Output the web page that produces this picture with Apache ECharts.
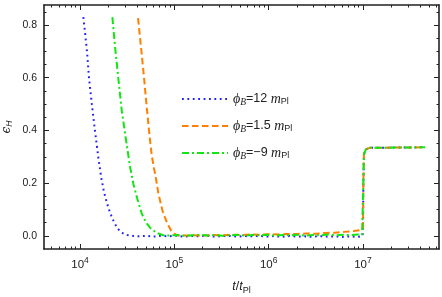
<!DOCTYPE html>
<html><head><meta charset="utf-8">
<script src="https://cdn.jsdelivr.net/npm/echarts@6/dist/echarts.min.js"></script>
<style>html,body{margin:0;padding:0;background:#fff}#c{width:442px;height:297px}</style>
</head><body><div id="c"></div>
<script>
// log10(t / t_Pl) and epsilon_H values
const blueLogT = [4.035,4.055,4.075,4.095,4.125,4.158,4.193,4.225,4.255,4.285,4.318,4.364,4.40,4.44,4.50,4.557,
  4.62,4.70,4.78,4.86,4.94,5.02,5.10,5.18,5.26,5.34,5.42,5.50,5.58,5.66,5.74,5.82,5.90,5.98,6.06,6.14,6.22,6.30,6.38,6.46,6.54,6.62,6.70,6.78,6.86,6.94,6.99,
  7.0,7.004,7.01,7.03,7.07,7.66];
const blueEps = [0.830,0.765,0.695,0.600,0.500,0.400,0.300,0.220,0.165,0.125,0.088,0.049,0.027,0.012,0.003,0.000,
  -0.002,0.000,-0.003,0.000,-0.002,0.001,-0.003,0.000,-0.002,0.001,-0.003,-0.001,0.000,-0.003,-0.001,-0.002,0.000,-0.003,-0.001,-0.004,-0.001,-0.003,-0.002,-0.004,-0.001,-0.003,-0.002,-0.004,-0.002,-0.004,-0.002,
  0.01,0.20,0.31,0.328,0.334,0.336];

const orangeLogT = [4.615,4.646,4.681,4.710,4.737,4.760,4.785,4.806,4.831,4.878,4.927,4.974,5.03,
  5.10,5.20,5.30,5.40,5.50,5.60,5.70,5.80,5.90,6.00,6.10,6.20,6.30,6.40,6.50,6.60,6.70,6.80,6.90,6.98,
  7.0,7.004,7.01,7.03,7.07,7.66];
const orangeEps = [0.826,0.718,0.591,0.477,0.380,0.306,0.255,0.215,0.160,0.090,0.046,0.014,0.002,
  0.001,0.002,0.001,0.003,0.002,0.004,0.003,0.005,0.004,0.006,0.005,0.007,0.007,0.009,0.008,0.011,0.012,0.015,0.018,0.022,
  0.03,0.20,0.31,0.328,0.334,0.336];

const greenLogT = [4.343,4.371,4.406,4.442,4.488,4.530,4.565,4.607,4.655,4.700,4.742,4.812,4.882,
  4.95,5.03,5.11,5.19,5.27,5.35,5.43,5.51,5.59,5.67,5.75,5.83,5.91,5.99,6.07,6.15,6.23,6.31,6.39,6.47,6.55,6.63,6.71,6.79,6.87,6.95,6.99,
  7.0,7.004,7.01,7.03,7.07,7.66];
const greenEps = [0.830,0.718,0.598,0.477,0.363,0.262,0.198,0.141,0.084,0.050,0.031,0.011,0.002,
  0.001,0.003,0.000,0.002,0.004,0.001,0.003,0.000,0.002,0.004,0.001,0.003,0.002,0.004,0.001,0.003,0.002,0.004,0.001,0.003,0.002,0.005,0.002,0.004,0.003,0.005,0.004,
  0.01,0.20,0.31,0.328,0.334,0.336];

const seriesNames = ['b12','b15','bm9'];
const legendTexts = {
  b12: '{i|ϕ}{s|B}{n|=12 }{i|m}{sp|Pl}',
  b15: '{i|ϕ}{s|B}{n|=1.5 }{i|m}{sp|Pl}',
  bm9: '{i|ϕ}{s|B}{n|=−9 }{i|m}{sp|Pl}'
};
const xMajor = [4,5,6,7];
const yMajor = [0,0.2,0.4,0.6,0.8];
const yMinor = [0.05,0.1,0.15,0.25,0.3,0.35,0.45,0.5,0.55,0.65,0.7,0.75,0.85];

const X_MIN = 3.618, X_MAX = 7.806, Y_MIN = -0.05, Y_MAX = 0.876;
const xMinor = [];
for (let n = 3; n <= 7; n++) for (let k = 2; k <= 9; k++) {
  const v = Math.log10(k * Math.pow(10, n));
  if (v > X_MIN && v < X_MAX) xMinor.push(v);
}

const pairs = (xs, ys) => xs.map((x, i) => [x, ys[i]]);
const lineCol = '#222';
const FONT = 'Liberation Sans';

function xAx(pos, ticks, len, labels, line) {
  return {
    type: 'value', position: pos, min: X_MIN, max: X_MAX,
    axisLine: { show: line, onZero: false, lineStyle: { color: lineCol, width: 1.6 } },
    axisTick: { show: true, inside: true, length: len, customValues: ticks, lineStyle: { color: lineCol, width: 1 } },
    axisLabel: labels ? {
      show: true, customValues: ticks, margin: 7, color: '#222', fontFamily: FONT, fontSize: 11.5,
      formatter: v => '{b|10}{p|' + Math.round(v) + '}',
      rich: { b: { fontSize: 11.5, fontFamily: FONT, color: '#222' },
              p: { fontSize: 8.5, fontFamily: FONT, color: '#222', padding: [0, 0, 9, 0] } }
    } : { show: false },
    splitLine: { show: false }, minorTick: { show: false }
  };
}
function yAx(pos, ticks, len, labels, line) {
  return {
    type: 'value', position: pos, min: Y_MIN, max: Y_MAX,
    axisLine: { show: line, onZero: false, lineStyle: { color: lineCol, width: 1.6 } },
    axisTick: { show: true, inside: true, length: len, customValues: ticks, lineStyle: { color: lineCol, width: 1 } },
    axisLabel: labels ? {
      show: true, customValues: ticks, margin: 7, color: '#222', fontFamily: FONT, fontSize: 10.5,
      formatter: v => v.toFixed(1)
    } : { show: false },
    splitLine: { show: false }
  };
}

const xAxes = [xAx('bottom', xMajor, 5, true, true), xAx('bottom', xMinor, 2.5, false, false),
  xAx('top', xMajor, 5, false, true), xAx('top', xMinor, 2.5, false, false)];
xAxes[0].name = '{i|t}{n|/}{i|t}{s|Pl}';
xAxes[0].nameLocation = 'middle';
xAxes[0].nameGap = 30;
xAxes[0].nameTextStyle = { color: '#222', fontFamily: FONT, fontSize: 12.5,
  rich: { i: { fontStyle: 'italic', fontFamily: FONT, fontSize: 12.5, color: '#222' },
          n: { fontFamily: FONT, fontSize: 12.5, color: '#222' },
          s: { fontFamily: FONT, fontSize: 9, color: '#222', padding: [7, 0, 0, 0] } } };

const yAxes = [yAx('left', yMajor, 5, true, true), yAx('left', yMinor, 2.5, false, false),
  yAx('right', yMajor, 5, false, true), yAx('right', yMinor, 2.5, false, false)];
yAxes[0].name = '{i|ϵ}{s|H}';
yAxes[0].nameLocation = 'middle';
yAxes[0].nameGap = 30;
yAxes[0].nameRotate = 90;
yAxes[0].nameMoveOverlap = false;
yAxes[0].nameTextStyle = { color: '#222', fontFamily: FONT, fontSize: 12,
  rich: { i: { fontStyle: 'italic', fontFamily: 'DejaVu Serif', fontSize: 12, color: '#222' },
          s: { fontStyle: 'italic', fontFamily: FONT, fontSize: 8.5, color: '#222', padding: [6, 0, 0, 0] } } };

const colors = ['#2020ff', '#ff8000', '#12e612'];
const dashes = [[1.8, 3.6], [6.5, 3.5], [7, 3, 2, 3]];
const data = [pairs(blueLogT, blueEps), pairs(orangeLogT, orangeEps), pairs(greenLogT, greenEps)];

const chart = echarts.init(document.getElementById('c'), null, { renderer: 'canvas' });
chart.setOption({
  animation: false,
  backgroundColor: '#fff',
  grid: { left: 44, right: 3, top: 5, bottom: 48, containLabel: false, outerBoundsMode: 'none' },
  xAxis: xAxes,
  yAxis: yAxes,
  legend: {
    orient: 'vertical', left: 176, top: 87, itemWidth: 46, itemHeight: 12, itemGap: 12,
    data: seriesNames,
    itemStyle: { opacity: 0 },
    formatter: n => legendTexts[n],
    textStyle: { color: '#222', fontFamily: FONT, fontSize: 12,
      rich: { i: { fontStyle: 'italic', fontFamily: 'Liberation Serif', fontSize: 14, color: '#222' },
              s: { fontStyle: 'italic', fontFamily: 'Liberation Serif', fontSize: 9.5, color: '#222', padding: [6, 0, 0, 0] },
              n: { fontFamily: FONT, fontSize: 12.5, color: '#222' },
              sp: { fontFamily: FONT, fontSize: 9, color: '#222', padding: [6, 0, 0, 0] } } }
  },
  series: seriesNames.map((nm, i) => ({
    name: nm, type: 'line', xAxisIndex: 0, yAxisIndex: 0, data: data[i],
    symbol: 'none', showSymbol: false, smooth: false,
    lineStyle: { color: colors[i], width: 2, type: dashes[i], cap: 'butt' },
    itemStyle: { color: colors[i] }, z: 2 + i
  }))
});
</script></body></html>
